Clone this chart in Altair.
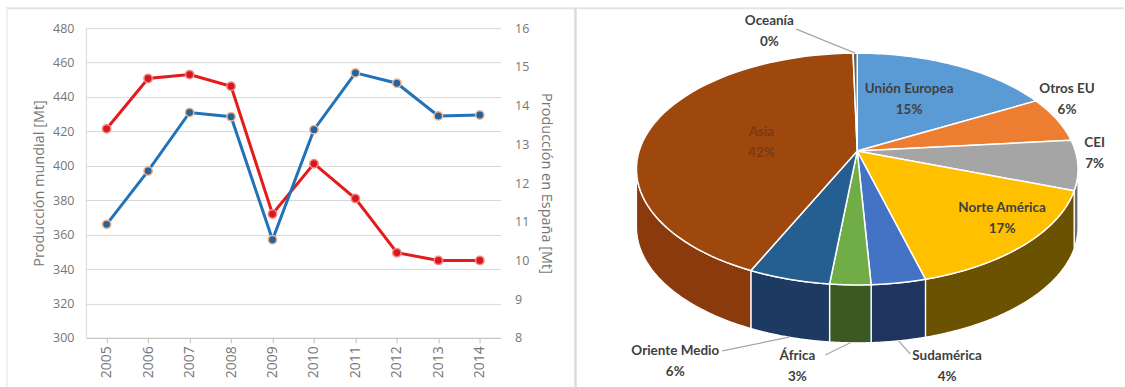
import math
import altair as alt
import pandas as pd

# ---------------- data ----------------
years = ["2005", "2006", "2007", "2008", "2009", "2010", "2011", "2012", "2013", "2014"]
prod_mundial = [366, 397, 431, 428.5, 357, 421, 454, 448, 429, 429.5]
prod_espana = [13.4, 14.7, 14.8, 14.5, 11.2, 12.5, 11.6, 10.2, 10.0, 10.0]

regions = ["Unión Europea", "Otros EU", "CEI", "Norte América", "Sudamérica",
           "África", "Oriente Medio", "Asia", "Oceanía"]
shares = [15, 6, 7, 17, 4, 3, 6, 41.7, 0.3]
pct_labels = ["15%", "6%", "7%", "17%", "4%", "3%", "6%", "42%", "0%"]

# ---------------- styles ----------------
AXIS_FONT = "Open Sans"
LABEL_FONT = "Lato"
GRAY = "#767676"
top_colors = ["#5b9bd5", "#ed7d31", "#a5a5a5", "#ffc000", "#4472c4",
              "#70ad47", "#255e91", "#9e480e", "#636363"]
side_colors = ["#3a6d9c", "#a8561f", "#6f6f6f", "#6b5200", "#1f3560",
               "#3a5a22", "#1c3a62", "#8a3a0c", "#404040"]

# ---------------- left: dual axis line chart ----------------
df = pd.DataFrame({"year": years, "mundial": prod_mundial, "espana": prod_espana})

x_enc = alt.X("year:O", title=None,
              axis=alt.Axis(labelAngle=-90, labelFont=AXIS_FONT, labelFontSize=14,
                            labelColor=GRAY, domainColor="#bfbfbf", tickColor="#bfbfbf",
                            tickSize=5, labelPadding=3, grid=False))

y_left = alt.Y("mundial:Q",
               scale=alt.Scale(domain=[300, 480], nice=False, zero=False),
               axis=alt.Axis(orient="left", values=list(range(300, 481, 20)),
                             title="Producción mundial [Mt]", titleFont=AXIS_FONT,
                             titleFontSize=14.5, titleFontWeight="normal", titleColor=GRAY,
                             titlePadding=6, labelFont=AXIS_FONT, labelFontSize=12.5,
                             labelColor=GRAY, labelPadding=12, ticks=False,
                             domainColor="#d9d9d9", grid=True, gridColor="#d9d9d9"))

y_right = alt.Y("espana:Q",
                scale=alt.Scale(domain=[8, 16], nice=False, zero=False),
                axis=alt.Axis(orient="right", values=list(range(8, 17)),
                              title="Producción en España [Mt]", titleFont=AXIS_FONT,
                              titleFontSize=14.5, titleFontWeight="normal", titleColor=GRAY,
                              titlePadding=10, labelFont=AXIS_FONT, labelFontSize=12.5,
                              labelColor=GRAY, labelPadding=14, ticks=False,
                              domain=False, grid=False))

blue_base = alt.Chart(df).encode(x=x_enc, y=y_left)
red_base = alt.Chart(df).encode(x=x_enc, y=y_right)

blue = alt.layer(
    blue_base.mark_line(color="#2272b8", strokeWidth=3),
    blue_base.mark_point(filled=True, size=70, fill="#23649f", stroke="#f2b48a",
                         strokeWidth=1.5, opacity=1),
)
red = alt.layer(
    red_base.mark_line(color="#e41b1b", strokeWidth=3),
    red_base.mark_point(filled=True, size=70, fill="#d9181c", stroke="#f08a8a",
                        strokeWidth=1.5, opacity=1),
)

frame_df = pd.DataFrame({"f": [0]})
frame = alt.layer(
    alt.Chart(frame_df).mark_rule(color="#e3e3e3", strokeWidth=2).encode(
        x=alt.value(-80), x2=alt.value(1039), y=alt.value(-20)),
    alt.Chart(frame_df).mark_rule(color="#ececec", strokeWidth=1.5).encode(
        x=alt.value(-79), y=alt.value(-20), y2=alt.value(360)),
    alt.Chart(frame_df).mark_rule(color="#dcdcdc", strokeWidth=2.5).encode(
        x=alt.value(490), y=alt.value(-20), y2=alt.value(360)),
)

left = alt.layer(red, blue, frame).resolve_scale(y="independent").properties(
    width=415, height=310)

# ---------------- right: 3D-like pie ----------------
N = 60        # samples along each arc
DEPTH = 0.5   # wall height in y-units
APEX = 0.155  # apex lift in y-units

pie_df = pd.DataFrame({"region": regions, "share": shares, "idx": list(range(len(regions)))})

xs = alt.Scale(domain=[-268 / 221, 262 / 221], nice=False, zero=False)
ys = alt.Scale(domain=[-(360 - 141) / 116, 141 / 116], nice=False, zero=False)

pie_base = (
    alt.Chart(pie_df)
    .transform_window(cum="sum(share)", sort=[alt.SortField("idx")], frame=[None, 0])
    .transform_joinaggregate(total="sum(share)")
    .transform_calculate(t0="2*PI*(datum.cum-datum.share)/datum.total",
                         t1="2*PI*datum.cum/datum.total")
)

side = (
    pie_base
    .transform_calculate(s0="max(datum.t0, PI/2)", s1="min(datum.t1, 3*PI/2)")
    .transform_filter("datum.s1 > datum.s0")
    .transform_calculate(k=f"sequence(0, {2 * N + 2})")
    .transform_flatten(["k"])
    .transform_calculate(j=f"datum.k <= {N} ? datum.k : {2 * N + 1} - datum.k")
    .transform_calculate(ang=f"datum.s0 + (datum.s1 - datum.s0) * datum.j / {N}")
    .transform_calculate(px="sin(datum.ang)",
                         py=f"cos(datum.ang) - (datum.k <= {N} ? 0 : {DEPTH})")
    .mark_line(filled=True, interpolate="linear-closed", stroke="white",
               strokeWidth=1.3, strokeJoin="round")
    .encode(x=alt.X("px:Q", scale=xs, axis=None),
            y=alt.Y("py:Q", scale=ys, axis=None),
            color=alt.Color("region:N", scale=alt.Scale(domain=regions, range=side_colors),
                            legend=None),
            detail="region:N", order="k:Q")
)

top = (
    pie_base
    .transform_calculate(k=f"sequence(0, {N + 2})")
    .transform_flatten(["k"])
    .transform_calculate(ang=f"datum.t0 + (datum.t1 - datum.t0) * min(datum.k, {N}) / {N}")
    .transform_calculate(px=f"datum.k <= {N} ? sin(datum.ang) : 0",
                         py=f"datum.k <= {N} ? cos(datum.ang) : {APEX}")
    .mark_line(filled=True, interpolate="linear-closed", stroke="white",
               strokeWidth=1.5, strokeJoin="round")
    .encode(x=alt.X("px:Q", scale=xs, axis=None),
            y=alt.Y("py:Q", scale=ys, axis=None),
            color=alt.Color("region:N", scale=alt.Scale(domain=regions, range=top_colors),
                            legend=None),
            detail="region:N", order="k:Q")
)

# label layout: position of each label's first line (unit coordinates of the pie frame)
label_pos = {
    "Unión Europea": (0.235, 0.690), "Otros EU": (0.950, 0.690), "CEI": (1.075, 0.224),
    "Norte América": (0.656, -0.336), "Sudamérica": (0.407, -1.612),
    "África": (-0.271, -1.612), "Oriente Medio": (-0.824, -1.569),
    "Asia": (-0.434, 0.319), "Oceanía": (-0.398, 1.276),
}
leader_start = {
    "Oceanía": (-0.276, 1.207), "Oriente Medio": (-0.611, -1.569),
    "África": (-0.145, -1.605), "Sudamérica": (0.240, -1.596),
}

total = sum(shares)
cum = 0.0
lab_rows, lead_rows = [], []
for r, s, p in zip(regions, shares, pct_labels):
    mid = 2 * math.pi * (cum + s / 2) / total
    cum += s
    lx, ly = label_pos[r]
    lab_rows.append({"region": r, "label": f"{r}\n{p}", "lx": lx, "ly": ly})
    if r in leader_start:
        ex = math.sin(mid)
        ey = math.cos(mid) - (DEPTH if math.cos(mid) < 0 else 0)
        sx, sy = leader_start[r]
        lead_rows.append({"region": r, "sx": sx, "sy": sy, "ex": ex, "ey": ey})

labels_df = pd.DataFrame(lab_rows)
leaders_df = pd.DataFrame(lead_rows)

leaders = alt.Chart(leaders_df).mark_rule(color="#a6a6a6", strokeWidth=1.2).encode(
    x=alt.X("sx:Q", scale=xs, axis=None), y=alt.Y("sy:Q", scale=ys, axis=None),
    x2="ex:Q", y2="ey:Q")

texts = alt.Chart(labels_df).mark_text(
    font=LABEL_FONT, fontWeight="bold", fontSize=13.5, lineBreak="\n", lineHeight=21,
    align="center", baseline="middle").encode(
    x=alt.X("lx:Q", scale=xs, axis=None), y=alt.Y("ly:Q", scale=ys, axis=None),
    text="label:N",
    color=alt.condition("datum.region == 'Asia'", alt.value("#7a3a12"), alt.value("#404040")))

right = alt.layer(side, top, leaders, texts).resolve_scale(color="independent").properties(
    width=530, height=360)

chart = (
    alt.hconcat(left, right, spacing=89, bounds="flush")
    .properties(padding={"left": 5, "top": 6, "right": 0, "bottom": 0},
                autosize=alt.AutoSizeParams(type="pad"),
                background="white")
    .configure_view(strokeOpacity=0)
)

chart.save("out.html", embed_options={"renderer": "svg", "actions": False})
